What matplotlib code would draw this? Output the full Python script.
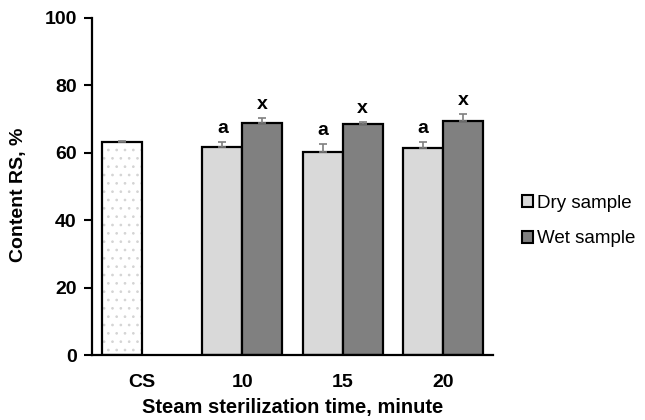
import matplotlib
matplotlib.use("Agg")
import matplotlib.pyplot as plt
from matplotlib.patches import Patch

plt.rcParams['font.family'] = ['Liberation Sans', 'DejaVu Sans']
plt.rcParams['hatch.linewidth'] = 0.7

# data
categories = ["CS", "10", "15", "20"]
cs_value, cs_err = 63.3, 0.2
dry_values = [61.8, 60.1, 61.3]
dry_err = [1.4, 2.5, 2.0]
wet_values = [68.7, 68.4, 69.4]
wet_err = [1.5, 0.8, 2.0]
dry_letters = ["a", "a", "a"]
wet_letters = ["x", "x", "x"]

W, H, DPI = 645, 420, 100
fig = plt.figure(figsize=(W / DPI, H / DPI), dpi=DPI)
ax = fig.add_axes([92 / W, 1 - 355 / H, (493 - 92) / W, (355 - 18) / H])

bw = 0.4
xs = list(range(len(categories)))
ekw = dict(ecolor="#7f7f7f", elinewidth=1.2, capsize=3, capthick=1.2)

# control bar (light dotted fill, black outline drawn on top)
ax.bar(xs[0] - bw / 2, cs_value, bw, color="white", edgecolor="#d4d4d4", linewidth=0,
       hatch="..", zorder=2)
ax.bar(xs[0] - bw / 2, cs_value, bw, color="none", edgecolor="black", linewidth=1.6, zorder=3)
ax.errorbar(xs[0] - bw / 2, cs_value, yerr=[[0], [cs_err]], fmt="none", zorder=4, **ekw)

dx = [x - bw / 2 for x in xs[1:]]
wx = [x + bw / 2 for x in xs[1:]]
ax.bar(dx, dry_values, bw, color="#d9d9d9", edgecolor="black", linewidth=1.6, zorder=2)
ax.bar(wx, wet_values, bw, color="#808080", edgecolor="black", linewidth=1.6, zorder=2)
ax.errorbar(dx, dry_values, yerr=[[0] * 3, dry_err], fmt="none", zorder=4, **ekw)
ax.errorbar(wx, wet_values, yerr=[[0] * 3, wet_err], fmt="none", zorder=4, **ekw)

for x, v, e, t in zip(dx, dry_values, dry_err, dry_letters):
    ax.text(x, v + e + 1.5, t, ha="center", va="bottom", fontsize=14, fontweight="bold")
for x, v, e, t in zip(wx, wet_values, wet_err, wet_letters):
    ax.text(x, v + e + 1.5, t, ha="center", va="bottom", fontsize=14, fontweight="bold")

ax.set_xlim(-0.5, 3.5)
ax.set_ylim(0, 100)
ax.set_yticks(range(0, 101, 20))
ax.set_xticks(xs)
ax.set_xticklabels(categories)
for lab in ax.get_xticklabels() + ax.get_yticklabels():
    lab.set_fontweight("bold")
    lab.set_fontsize(14)
ax.tick_params(axis="x", length=0, pad=14)
ax.tick_params(axis="y", length=6, width=1.5, direction="out", pad=5)
for s in ["top", "right"]:
    ax.spines[s].set_visible(False)
for s in ["left", "bottom"]:
    ax.spines[s].set_linewidth(1.6)

ax.set_ylabel("Content RS, %", fontsize=14, fontweight="bold")
ax.yaxis.set_label_coords(-0.162, 0.475)
ax.set_xlabel("Steam sterilization time, minute", fontsize=14.5, fontweight="bold", labelpad=5)

handles = [Patch(facecolor="#d9d9d9", edgecolor="black", linewidth=1.5),
           Patch(facecolor="#808080", edgecolor="black", linewidth=1.5)]
fig.legend(handles, ["Dry sample", "Wet sample"], loc="center left",
           bbox_to_anchor=(522 / W, 1 - 221 / H), frameon=False, fontsize=13.5,
           handlelength=0.6, handleheight=0.6, handletextpad=0.2, labelspacing=1.0,
           borderpad=0.0, borderaxespad=0.0)

fig.savefig("out.png", dpi=DPI, facecolor="white")
